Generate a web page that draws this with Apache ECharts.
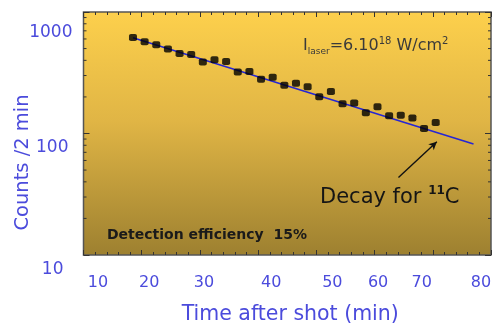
<!DOCTYPE html>
<html>
<head>
<meta charset="utf-8">
<script src="https://cdn.jsdelivr.net/npm/echarts@6/dist/echarts.min.js"></script>
<style>
  html, body { margin: 0; padding: 0; background: #ffffff; }
  #chart { width: 494px; height: 333px; }
</style>
</head>
<body>
<div id="chart"></div>
<script>
// ---- data ----
const timeMin = [18.5, 20.5, 22.5, 24.5, 26.5, 28.5, 30.5, 32.5, 34.5, 36.5, 38.5, 40.5, 42.5, 44.5,
                 46.5, 48.5, 50.5, 52.5, 54.5, 56.5, 58.5, 60.5, 62.5, 64.5, 66.5, 68.5, 70.5];
const counts = [618, 568, 537, 495, 456, 447, 388, 404, 391, 321, 324, 279, 290, 249,
                259, 243, 201, 222, 176, 178, 148, 166, 140, 141, 134, 110, 123];
const fitTime = [18.5, 77];
const fitCounts = [615, 82];
const xTicks = [10, 20, 30, 40, 50, 60, 70, 80];
const yTicks = [10, 100, 1000];
const yMinorTicks = [20, 30, 40, 50, 60, 70, 80, 90, 200, 300, 400, 500, 600, 700, 800, 900];
const arrowFrom = [64.1, 43.5];
const arrowTo = [70.7, 85.5];

const X_MIN = 10, X_MAX = 80, Y_MIN = 10, Y_MAX = 1000;

// label nudges to reproduce the hand-placed tick labels of the original
const xLabelPad = {10: [0,0,0,29], 20: [0,0,0,15], 30: [0,0,0,8], 40: [0,0,0,26],
                   50: [0,0,0,32], 60: [0,0,0,7], 70: [0,22,0,0], 80: [0,20,0,0]};
const yLabelPad = {10: [30,9,0,0], 100: [28,4,0,0], 1000: [41,0,0,0]};

const AXIS_BLUE = '#4b4bdc';
const FONT = 'DejaVu Sans';

const xRich = {}; xTicks.forEach(v => { xRich['t' + v] = {padding: xLabelPad[v], color: AXIS_BLUE, fontSize: 16, fontFamily: FONT}; });
const yRich = {}; yTicks.forEach(v => { yRich['t' + v] = {padding: yLabelPad[v], color: AXIS_BLUE, fontSize: 17, fontFamily: FONT}; });

const chart = echarts.init(document.getElementById('chart'), null, {renderer: 'canvas'});

const tickStyle = {color: '#333', width: 1};

const option = {
  animation: false,
  backgroundColor: '#ffffff',
  grid: {
    left: 83.5, right: 3, top: 12, bottom: 78,
    containLabel: false,
    outerBoundsMode: 'none',
    show: true,
    borderColor: '#555', borderWidth: 1.5,
    backgroundColor: {
      type: 'linear', x: 0, y: 0, x2: 0, y2: 1,
      colorStops: [
        {offset: 0, color: '#fdd04c'},
        {offset: 0.45, color: '#e0b545'},
        {offset: 1, color: '#9d8030'}
      ]
    }
  },
  xAxis: [{
    type: 'value', min: X_MIN, max: X_MAX, interval: 10, position: 'bottom',
    axisLine: {show: false},
    axisTick: {show: true, inside: true, length: 5, lineStyle: tickStyle},
    minorTick: {show: true, splitNumber: 5, length: 3, lineStyle: tickStyle},
    splitLine: {show: false},
    axisLabel: {
      margin: 20,
      formatter: v => '{t' + v + '|' + v + '}',
      rich: xRich
    },
    name: 'Time after shot (min)', nameLocation: 'middle', nameGap: 49,
    nameTextStyle: {color: AXIS_BLUE, fontSize: 20.5, fontFamily: FONT, padding: [0,0,0,6]}
  }, {
    type: 'value', min: X_MIN, max: X_MAX, interval: 10, position: 'top',
    axisLine: {show: false},
    axisTick: {show: true, inside: true, length: 5, lineStyle: tickStyle},
    minorTick: {show: true, splitNumber: 5, length: 3, lineStyle: tickStyle},
    splitLine: {show: false},
    axisLabel: {show: false}
  }],
  yAxis: [{
    type: 'log', logBase: 10, min: Y_MIN, max: Y_MAX, position: 'left',
    axisLine: {show: false},
    axisTick: {show: true, inside: true, length: 6, lineStyle: tickStyle},
    splitLine: {show: false},
    axisLabel: {
      margin: 11,
      formatter: v => '{t' + v + '|' + v + '}',
      rich: yRich
    },
    name: 'Counts /2 min', nameLocation: 'middle', nameGap: 51, nameRotate: 90,
    nameMoveOverlap: false,
    nameTextStyle: {color: AXIS_BLUE, fontSize: 19.5, fontFamily: FONT, padding: [0, 58, 0, 0]}
  }, {
    type: 'log', logBase: 10, min: Y_MIN, max: Y_MAX, position: 'right',
    axisLine: {show: false},
    axisTick: {show: true, inside: true, length: 6, lineStyle: tickStyle},
    splitLine: {show: false},
    axisLabel: {show: false}
  }],
  series: [{
    type: 'custom', xAxisIndex: 0, yAxisIndex: 0, silent: true,
    data: yMinorTicks.map(v => [X_MIN, v]),
    renderItem: function (params, api) {
      const v = api.value(1);
      const a = api.coord([X_MIN, v]);
      const b = api.coord([X_MAX, v]);
      return {type: 'group', children: [
        {type: 'line', shape: {x1: a[0], y1: a[1], x2: a[0] + 3, y2: a[1]}, style: {stroke: '#333', lineWidth: 1}},
        {type: 'line', shape: {x1: b[0] - 3, y1: b[1], x2: b[0], y2: b[1]}, style: {stroke: '#333', lineWidth: 1}}
      ]};
    }
  }, {
    type: 'line', xAxisIndex: 0, yAxisIndex: 0,
    data: fitTime.map((t, i) => [t, fitCounts[i]]),
    symbol: 'none',
    lineStyle: {color: '#2626d4', width: 1.6},
    z: 3,
    markLine: {
      silent: true, symbol: ['none', 'arrow'], symbolSize: [6, 8],
      lineStyle: {color: '#111', width: 1.4, type: 'solid'},
      label: {show: false},
      data: [[{coord: arrowFrom}, {coord: arrowTo}]]
    }
  }, {
    type: 'scatter', xAxisIndex: 0, yAxisIndex: 0,
    data: timeMin.map((t, i) => [t, counts[i]]),
    symbol: 'roundRect', symbolSize: [8, 7],
    itemStyle: {color: '#000'},
    z: 4
  }],
  graphic: [{
    type: 'text', left: 303, top: 36, z: 10,
    style: {
      text: '{m|I}{sub|laser}{m|=6.10}{sup|18}{m| W/cm}{sup|2}',
      rich: {
        m: {fontSize: 16, fontFamily: FONT, fill: '#3a3a3a', lineHeight: 20, verticalAlign: 'middle'},
        sub: {fontSize: 9, fontFamily: FONT, fill: '#3a3a3a', lineHeight: 10, verticalAlign: 'bottom'},
        sup: {fontSize: 10, fontFamily: FONT, fill: '#3a3a3a', lineHeight: 10, verticalAlign: 'top'}
      }
    }
  }, {
    type: 'text', left: 320, top: 185, z: 10,
    style: {
      text: '{m|Decay for }{sup|11}{m|C}',
      rich: {
        m: {fontSize: 21, fontFamily: FONT, fill: '#151515', lineHeight: 26, verticalAlign: 'middle'},
        sup: {fontSize: 12, fontFamily: FONT, fill: '#151515', lineHeight: 12, verticalAlign: 'top', fontWeight: 'bold'}
      }
    }
  }, {
    type: 'text', left: 107, top: 228, z: 10,
    style: {
      text: 'Detection efficiency  15%',
      fontSize: 14, fontWeight: 'bold', fontFamily: FONT, fill: '#1a1a1a'
    }
  }]
};

chart.setOption(option);
</script>
</body>
</html>
